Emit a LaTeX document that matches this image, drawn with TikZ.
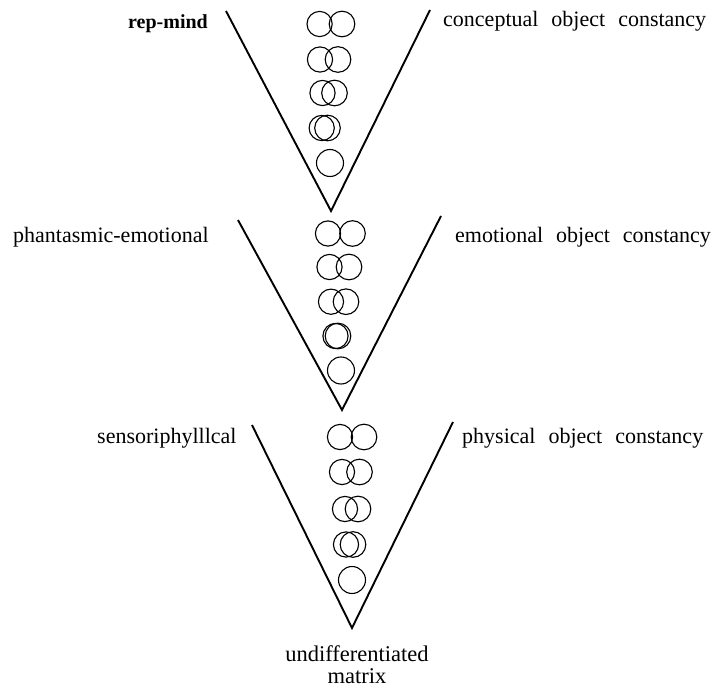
\documentclass[tikz,border=0pt]{standalone}
\usepackage{fontspec}
\setmainfont{Liberation Serif}
\begin{document}
\begin{tikzpicture}[x=1pt,y=-1pt,
  vline/.style={line width=1.9pt, line join=miter},
  ring/.style={line width=1.1pt},
  lab/.style={inner sep=0pt, anchor=base west, font=\fontsize{22}{24}\selectfont}]
\useasboundingbox (0,0) rectangle (716,688);
\newcommand{\wg}{\hspace{13pt}}
% V shapes
\coordinate (v1l) at (226,11); \coordinate (v1t) at (331,211); \coordinate (v1r) at (430,10);
\coordinate (v2l) at (238,220); \coordinate (v2t) at (342,410); \coordinate (v2r) at (441,216);
\coordinate (v3l) at (252,425); \coordinate (v3t) at (352,628); \coordinate (v3r) at (453,422);
\draw[vline] (v1l) -- (v1t) -- (v1r);
\draw[vline] (v2l) -- (v2t) -- (v2r);
\draw[vline] (v3l) -- (v3t) -- (v3r);
% circles V1
\foreach \a/\b/\y in {319.6/342/24, 320/338/59.5, 322.5/334.5/93, 321.7/327.5/128}{
  \draw[ring] (\a,\y) circle (12.6pt);
  \draw[ring] (\b,\y) circle (12.8pt);
}
\draw[ring] (330,163) circle (13.5pt);
% circles V2
\foreach \a/\b/\y in {328/352.5/233.5, 329.5/349/267, 331/346/301.7, 335.5/338/336}{
  \draw[ring] (\a,\y) circle (12.6pt);
  \draw[ring] (\b,\y) circle (12.8pt);
}
\draw[ring] (341,370.5) circle (13.5pt);
% circles V3
\foreach \a/\b/\y in {340/364/437, 342/359.5/472, 345/358/509, 346/353/544.5}{
  \draw[ring] (\a,\y) circle (12.6pt);
  \draw[ring] (\b,\y) circle (12.8pt);
}
\draw[ring] (352,580) circle (13.5pt);
% labels
\node[lab, font=\fontsize{20}{22}\selectfont\bfseries] (repmind) at (128,28) {rep-mind};
\node[lab] (concept) at (443,27) {conceptual\wg object\wg constancy};
\node[lab] (phant) at (13,242) {phantasmic-emotional};
\node[lab] (emot) at (455,242) {emotional\wg object\wg constancy};
\node[lab] (senso) at (97,443) {sensoriphylllcal};
\node[lab] (phys) at (462,443) {physical\wg object\wg constancy};
\node[inner sep=0pt, anchor=north, align=center, font=\fontsize{22.5}{22}\selectfont] (undiff) at (357,645) {undifferentiated\\matrix};
\end{tikzpicture}
\end{document}
